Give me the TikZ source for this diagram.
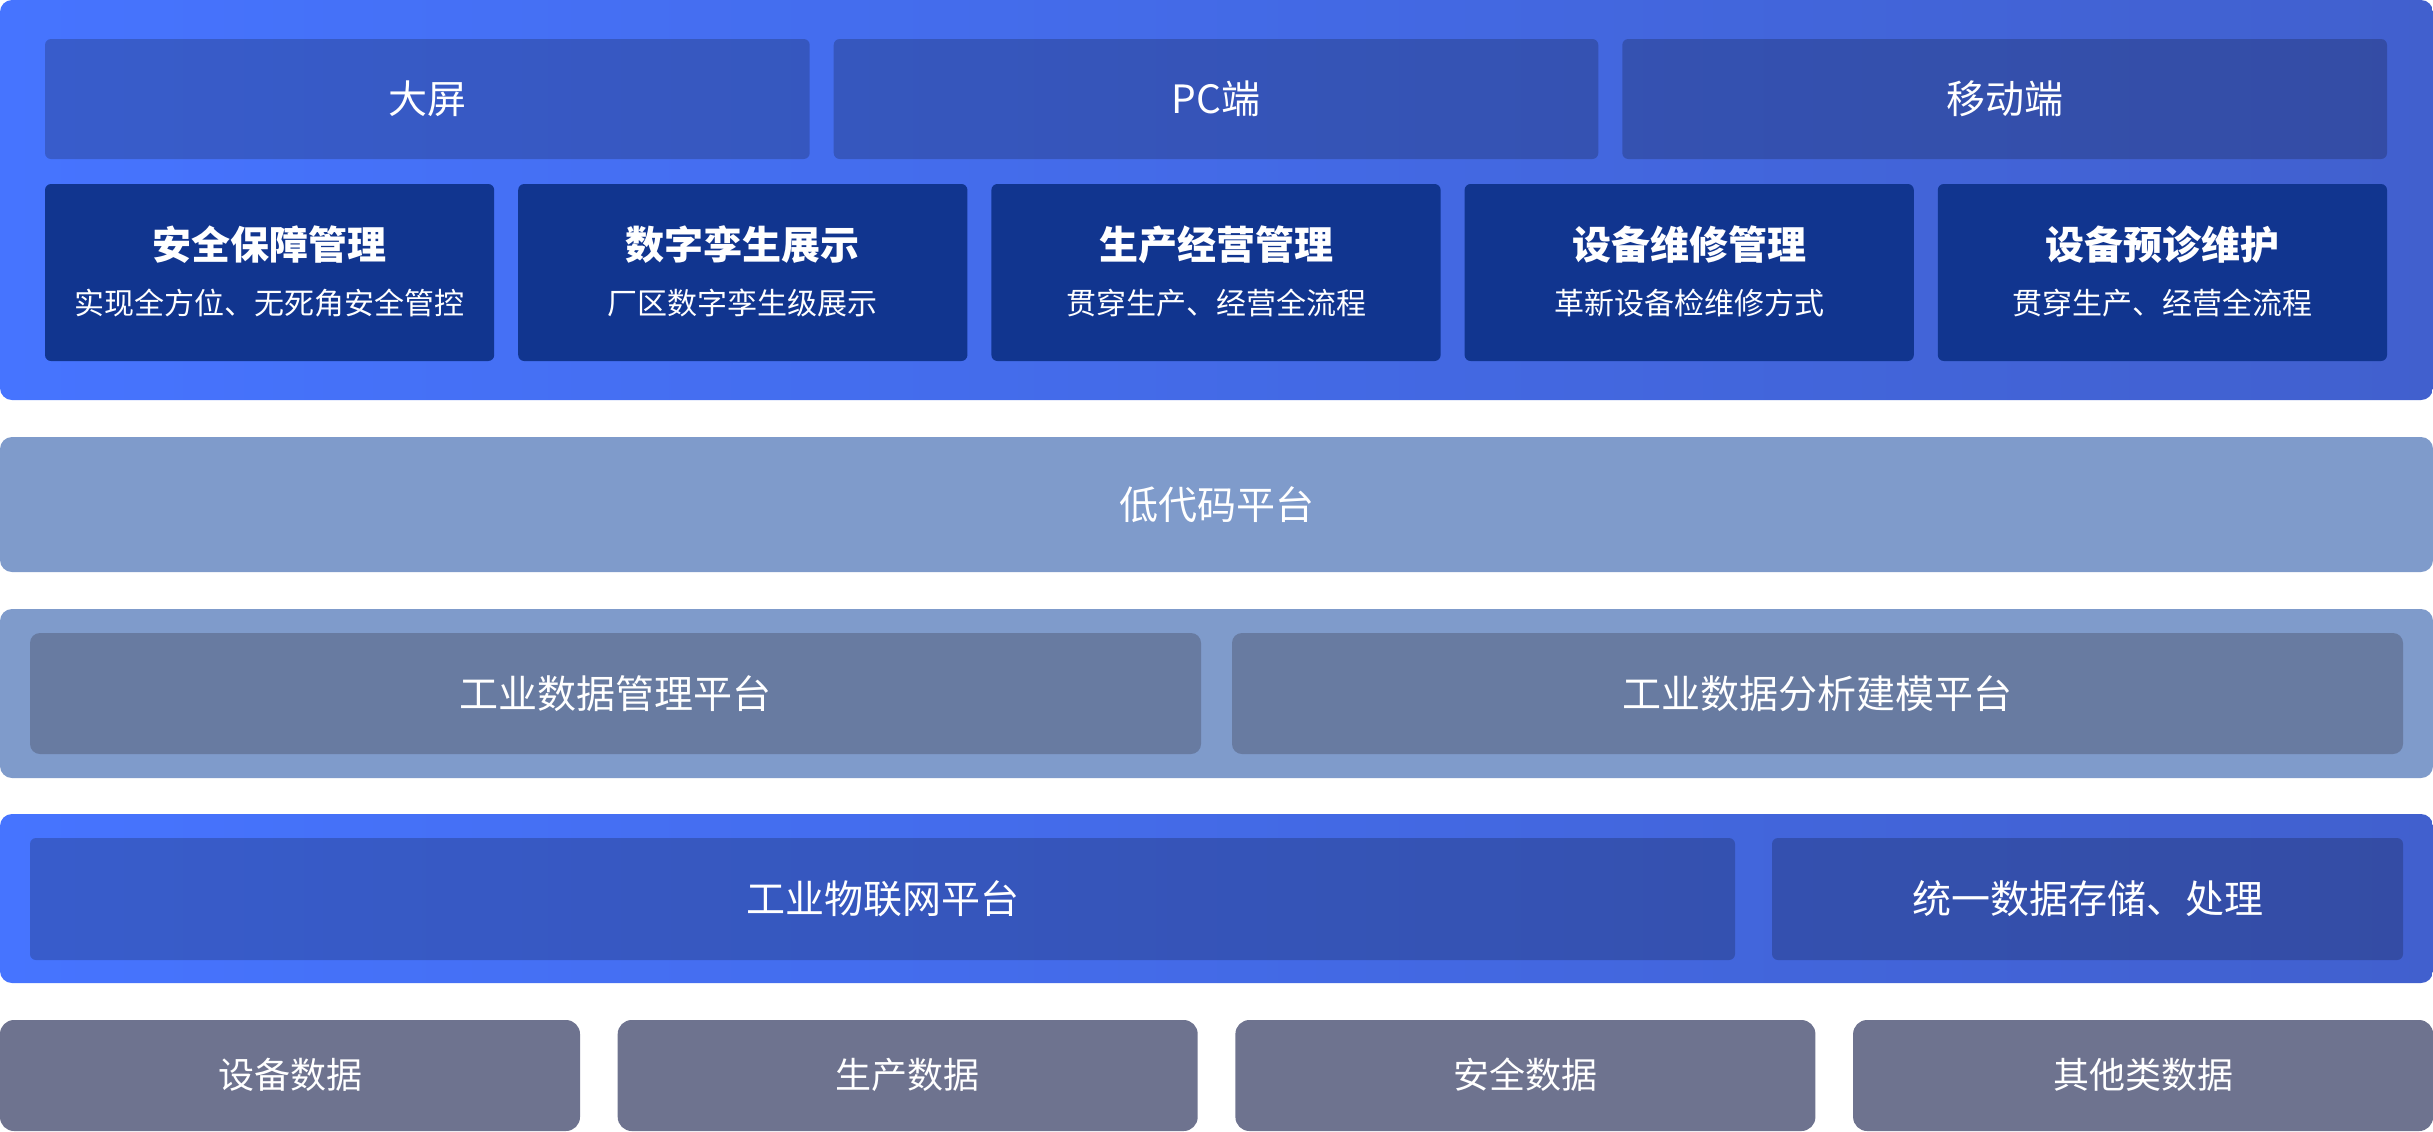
\documentclass[tikz,border=0pt]{standalone}
\usepackage{fontspec}
\setmainfont{Noto Sans CJK SC}
\definecolor{topL}{RGB}{70,116,255}
\definecolor{topR}{RGB}{65,96,206}
\definecolor{navy}{RGB}{17,53,143}
\definecolor{lowcode}{RGB}{127,155,203}
\definecolor{midin}{RGB}{104,123,161}
\definecolor{databox}{RGB}{110,115,143}
\begin{document}
\begin{tikzpicture}[x=0.5pt,y=-0.5pt,
  bluepanel/.style={left color=topL,right color=topR,rounded corners=6pt},
  overlay/.style={fill=black,fill opacity=0.2,rounded corners=3pt},
  navybox/.style={fill=navy,rounded corners=3pt},
  lbl/.style={text=white,font=\fontsize{19.5pt}{22pt}\selectfont,inner sep=0pt},
  ttl/.style={text=white,font=\fontsize{19.5pt}{22pt}\selectfont\bfseries,inner sep=0pt},
  sub/.style={text=white,font=\fontsize{15pt}{18pt}\selectfont,inner sep=0pt},
  dlbl/.style={text=white,font=\fontsize{18pt}{21pt}\selectfont,inner sep=0pt}]
\useasboundingbox (0,0) rectangle (2433,1131);

% ---------- top panel ----------
\shade[bluepanel] (0,0) rectangle (2433,400);
\fill[overlay] (45,39) rectangle (809.7,159);
\fill[overlay] (833.7,39) rectangle (1598.3,159);
\fill[overlay] (1622.3,39) rectangle (2387,159);
\node[lbl] (dp) at (427.3,99) {大屏};
\node[lbl] (pc) at (1216,99) {PC端};
\node[lbl] (yd) at (2004.7,99) {移动端};

\foreach \i/\t/\s in {0/安全保障管理/实现全方位、无死角安全管控,
                      1/数字孪生展示/厂区数字孪生级展示,
                      2/生产经营管理/贯穿生产、经营全流程,
                      3/设备维修管理/革新设备检维修方式,
                      4/设备预诊维护/贯穿生产、经营全流程}{
  \pgfmathsetmacro\xa{45+\i*473.2}
  \pgfmathsetmacro\xb{\xa+449.2}
  \pgfmathsetmacro\xc{\xa+224.6}
  \fill[navybox] (\xa,184) rectangle (\xb,361);
  \node[ttl] (t\i) at (\xc,245) {\t};
  \node[sub] (s\i) at (\xc,303) {\s};
}

% ---------- low code ----------
\fill[lowcode,rounded corners=6pt] (0,437) rectangle (2433,572);
\node[lbl] (lc) at (1216.5,504.5) {低代码平台};

% ---------- data platforms ----------
\fill[lowcode,rounded corners=6pt] (0,609) rectangle (2433,778);
\fill[midin,rounded corners=5pt] (30,633) rectangle (1201,754);
\fill[midin,rounded corners=5pt] (1232,633) rectangle (2403,754);
\node[lbl] (dm) at (615.5,693.5) {工业数据管理平台};
\node[lbl] (da) at (1817.5,693.5) {工业数据分析建模平台};

% ---------- IoT ----------
\shade[bluepanel] (0,814) rectangle (2433,983);
\fill[overlay] (30,838) rectangle (1735,960);
\fill[overlay] (1772,838) rectangle (2403,960);
\node[lbl] (iot) at (882.5,899) {工业物联网平台};
\node[lbl] (st) at (2087.5,899) {统一数据存储、处理};

% ---------- data sources ----------
\foreach \i/\t in {0/设备数据,1/生产数据,2/安全数据,3/其他类数据}{
  \pgfmathsetmacro\xa{\i*617.7}
  \pgfmathsetmacro\xb{\xa+580}
  \pgfmathsetmacro\xc{\xa+290}
  \fill[databox,rounded corners=7pt] (\xa,1020) rectangle (\xb,1131);
  \node[dlbl] (d\i) at (\xc,1075) {\t};
}
\end{tikzpicture}
\end{document}
